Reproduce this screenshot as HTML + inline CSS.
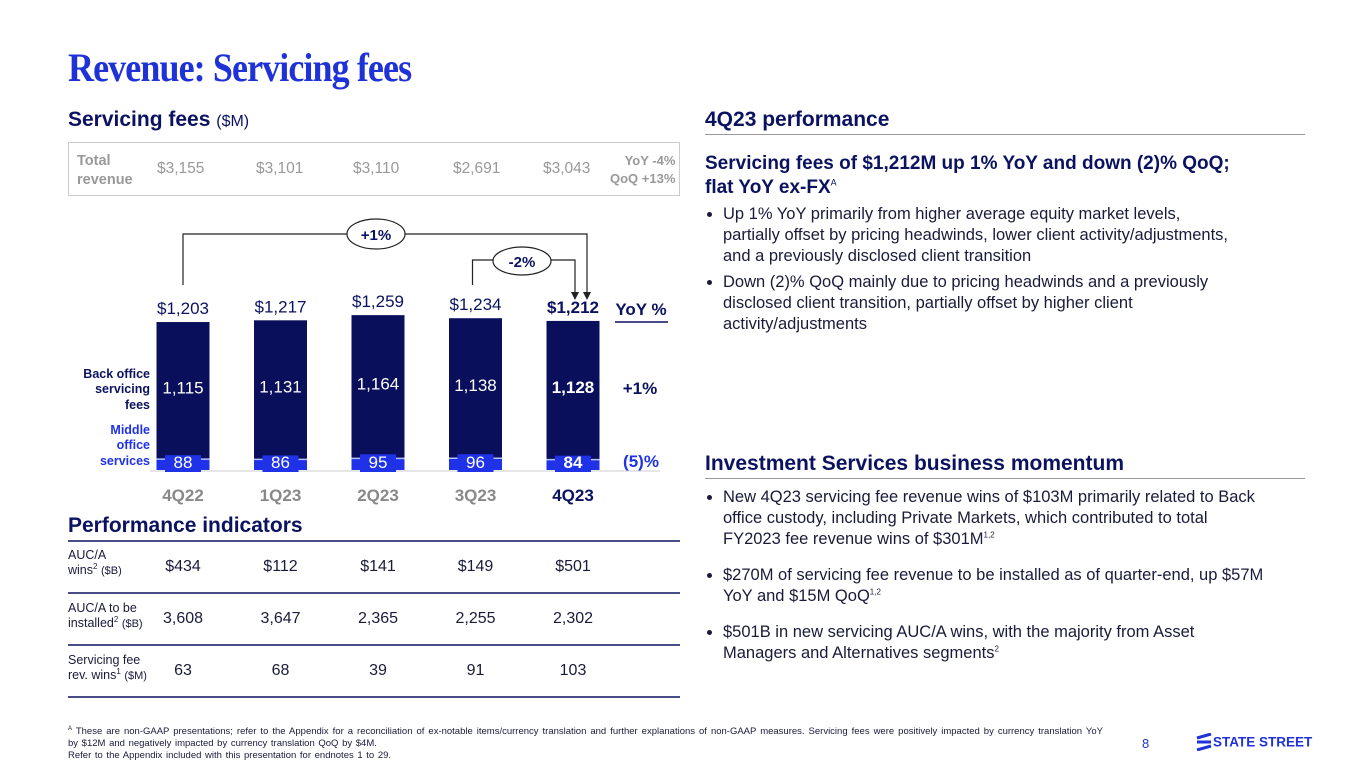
<!DOCTYPE html>
<html><head><meta charset="utf-8">
<style>
body{margin:0;width:1365px;height:768px;background:#fff;font-family:"Liberation Sans",sans-serif;color:#0b1260;position:relative;overflow:hidden}
.a{position:absolute;white-space:nowrap}
.title{left:68px;top:44px;font-family:"Liberation Serif",serif;font-weight:bold;font-size:40px;color:#1f32d8;transform:scaleX(0.9);transform-origin:left top;letter-spacing:-1px}
.h{font-weight:bold;font-size:21px;color:#0b1260}
.tr{font-size:15.5px;color:#999}
.b{font-size:16.5px;line-height:21px;color:#1a1a3a;white-space:normal}
.b li{margin-bottom:5px}
sup{line-height:0}
ul{margin:0;padding-left:18px}
.pi{font-size:16px;color:#1a1a3a}
.pl{font-size:12.5px;color:#1a1a3a;line-height:15px}
</style></head><body>
<div class="a title">Revenue: Servicing fees</div>
<div class="a h" style="left:68px;top:108px">Servicing fees <span style="font-weight:normal;font-size:16px">($M)</span></div>
<div class="a" style="left:68px;top:142px;width:610px;height:52px;border:1.5px solid #ccc"></div>
<div class="a tr" style="left:77px;top:152px;font-weight:bold;line-height:19px;font-size:14.5px">Total<br>revenue</div>
<div class="a tr" style="left:157px;top:160px">$3,155</div>
<div class="a tr" style="left:256px;top:160px">$3,101</div>
<div class="a tr" style="left:353px;top:160px">$3,110</div>
<div class="a tr" style="left:453px;top:160px">$2,691</div>
<div class="a tr" style="left:543px;top:160px">$3,043</div>
<div class="a" style="left:610px;top:152px;font-size:13px;font-weight:bold;color:#999;line-height:18px;text-align:right">YoY -4%<br>QoQ +13%</div>

<svg class="a" style="left:0;top:200px" width="700" height="310" id="chart"></svg>

<div class="a h" style="left:68px;top:514px">Performance indicators</div>
<svg class="a" style="left:0;top:535px" width="700" height="170">
<line x1="68" x2="680" y1="6" y2="6" stroke="#0b1260" stroke-width="1.5"/>
<line x1="68" x2="680" y1="58" y2="58" stroke="#0b1260" stroke-width="1.5"/>
<line x1="68" x2="680" y1="110" y2="110" stroke="#0b1260" stroke-width="1.5"/>
<line x1="68" x2="680" y1="162" y2="162" stroke="#0b1260" stroke-width="1.5"/>
</svg>
<div class="a pl" style="left:68px;top:548px">AUC/A<br>wins<sup style="font-size:8px">2</sup> <span style="font-size:11px">($B)</span></div>
<div class="a pl" style="left:68px;top:601px">AUC/A to be<br>installed<sup style="font-size:8px">2</sup> <span style="font-size:11px">($B)</span></div>
<div class="a pl" style="left:68px;top:653px">Servicing fee<br>rev. wins<sup style="font-size:8px">1</sup> <span style="font-size:11px">($M)</span></div>
<div id="pi"></div>

<div class="a h" style="left:705px;top:108px">4Q23 performance</div>
<div class="a" style="left:705px;top:134px;width:600px;height:1px;background:#999"></div>
<div class="a" style="left:705px;top:152px;font-size:19px;font-weight:bold;line-height:24px;color:#0b1260">Servicing fees of $1,212M up 1% YoY and down (2)% QoQ;<br>flat YoY ex-FX<sup style="font-size:9px;font-weight:normal">A</sup></div>
<div class="a b" style="left:705px;top:204px;width:528px"><ul>
<li>Up 1% YoY primarily from higher average equity market levels, partially offset by pricing headwinds, lower client activity/adjustments, and a previously disclosed client transition</li>
<li>Down (2)% QoQ mainly due to pricing headwinds and a previously disclosed client transition, partially offset by higher client activity/adjustments</li></ul></div>
<div class="a h" style="left:705px;top:452px">Investment Services business momentum</div>
<div class="a" style="left:705px;top:478px;width:600px;height:1px;background:#999"></div>
<div class="a b" style="left:705px;top:487px;width:560px"><ul>
<li style="margin-bottom:15px">New 4Q23 servicing fee revenue wins of $103M primarily related to Back office custody, including Private Markets, which contributed to total FY2023 fee revenue wins of $301M<sup style="font-size:8px">1,2</sup></li>
<li style="margin-bottom:15px">$270M of servicing fee revenue to be installed as of quarter-end, up $57M YoY and $15M QoQ<sup style="font-size:8px">1,2</sup></li>
<li>$501B in new servicing AUC/A wins, with the majority from Asset Managers and Alternatives segments<sup style="font-size:8px">2</sup></li></ul></div>

<div class="a" style="left:68px;top:726px;font-size:9.5px;line-height:12px;color:#1a1a3a;white-space:normal;width:1035px;text-align:justify;word-spacing:1px"><sup style="font-size:6px">A</sup> These are non-GAAP presentations; refer to the Appendix for a reconciliation of ex-notable items/currency translation and further explanations of non-GAAP measures. Servicing fees were positively impacted by currency translation YoY by $12M and negatively impacted by currency translation QoQ by $4M.<br>Refer to the Appendix included with this presentation for endnotes 1 to 29.</div>
<div class="a" style="left:1142px;top:736px;font-size:13px;color:#1f32d8">8</div>
<div class="a" style="left:1195px;top:733px">
<svg width="18" height="18" style="vertical-align:middle"><path d="M2 5 L16 1 M2 9 L16 9 M2 17 L16 13" stroke="#1f32d8" stroke-width="3"/></svg><span style="font-weight:bold;font-size:13.5px;color:#1f32d8;vertical-align:middle">STATE STREET</span></div>

<script>
const quarters=["4Q22","1Q23","2Q23","3Q23","4Q23"];
const backOffice=[1115,1131,1164,1138,1128];
const middleOffice=[88,86,95,96,84];
const totals=["$1,203","$1,217","$1,259","$1,234","$1,212"];
const aucWins=["$434","$112","$141","$149","$501"];
const aucInstalled=["3,608","3,647","2,365","2,255","2,302"];
const feeWins=["63","68","39","91","103"];
const NS="http://www.w3.org/2000/svg";
const svg=document.getElementById('chart');
const base=270, k=0.123, x0=183, step=97.5, bw=53;
const X=i=>x0+i*step, Y=v=>base-v*k;
function el(t,a,p){const e=document.createElementNS(NS,t);for(const n in a)e.setAttribute(n,a[n]);(p||svg).appendChild(e);return e;}
function tx(x,y,s,o){const e=el('text',Object.assign({x:x,y:y,'text-anchor':'middle','font-family':'Liberation Sans, sans-serif','font-size':16},o||{}));e.textContent=s;return e;}
el('line',{x1:150,x2:660,y1:base+1,y2:base+1,stroke:'#ccc'});
quarters.forEach((q,i)=>{
  const last=i===quarters.length-1, fw=last?'bold':'normal';
  const mo=middleOffice[i], tot=backOffice[i]+mo;
  const r1=el('rect',{x:X(i)-bw/2,y:Y(tot),width:bw,height:(tot-mo)*k,fill:'#0a0f5c'});
  
  
  const r2=el('rect',{x:X(i)-bw/2,y:Y(mo),width:bw,height:mo*k,fill:'#1f32e8'});
  
  
  el('line',{x1:X(i)-bw/2,x2:X(i)+bw/2,y1:Y(mo),y2:Y(mo),stroke:'#b8c0ff','stroke-width':1.5});
  el('rect',{x:X(i)-18,y:Y(mo)-4,width:36,height:mo*k+6,fill:'#1f32e8'});
  tx(X(i),base-2,String(mo),{fill:'#fff','font-weight':fw,'font-size':17});
  tx(X(i),Y(tot)+(tot-mo)*k*0.52,backOffice[i].toLocaleString('en-US'),{fill:'#fff','font-weight':fw,'font-size':17});
  tx(X(i),Y(tot)-8,totals[i],{fill:'#0b1260','font-weight':fw,'font-size':17});
  tx(X(i),base+31,q,{fill:last?'#0b1260':'#888','font-weight':'bold','font-size':17});
});
const lb=(s,y,c)=>tx(150,y,s,{'text-anchor':'end','font-size':12.5,'font-weight':'bold',fill:c});
lb('Back office',178,'#0b1260');lb('servicing',193,'#0b1260');lb('fees',209,'#0b1260');
lb('Middle',234,'#1f32e8');lb('office',249,'#1f32e8');lb('services',265,'#1f32e8');
tx(641,115,'YoY %',{'font-weight':'bold',fill:'#0b1260','font-size':17});
el('line',{x1:615,x2:668,y1:122,y2:122,stroke:'#0b1260','stroke-width':1.5});
tx(640,194,'+1%',{'font-weight':'bold',fill:'#0b1260','font-size':17});
tx(641,267,'(5)%',{'font-weight':'bold',fill:'#1f32e8','font-size':17});
const ax1=X(4)+14, ax2=X(4)+2;
el('path',{d:`M${X(0)} 85 V34 H${ax1} V92`,fill:'none',stroke:'#222','stroke-width':1.2});
el('path',{d:`M${X(3)-3} 85 V60 H${ax2} V92`,fill:'none',stroke:'#222','stroke-width':1.2});
el('path',{d:`M${ax1-4} 92 L${ax1} 100 L${ax1+4} 92Z M${ax2-4} 92 L${ax2} 100 L${ax2+4} 92Z`,fill:'#222'});
el('ellipse',{cx:376,cy:34,rx:29,ry:15,fill:'#fff',stroke:'#222','stroke-width':1.2});
tx(376,40,'+1%',{'font-weight':'bold',fill:'#0b1260','font-size':15});
el('ellipse',{cx:522,cy:61,rx:29,ry:14,fill:'#fff',stroke:'#222','stroke-width':1.2});
tx(522,67,'-2%',{'font-weight':'bold',fill:'#0b1260','font-size':15});
const pi=document.getElementById('pi');
[[aucWins,558],[aucInstalled,610],[feeWins,662]].forEach(([arr,y])=>{
  arr.forEach((v,i)=>{const d=document.createElement('div');d.className='a pi';
  d.style.left=(X(i)-40)+'px';d.style.width='80px';d.style.textAlign='center';d.style.top=y+'px';d.textContent=v;
  
  
  pi.appendChild(d);});
});
</script>
</body></html>
